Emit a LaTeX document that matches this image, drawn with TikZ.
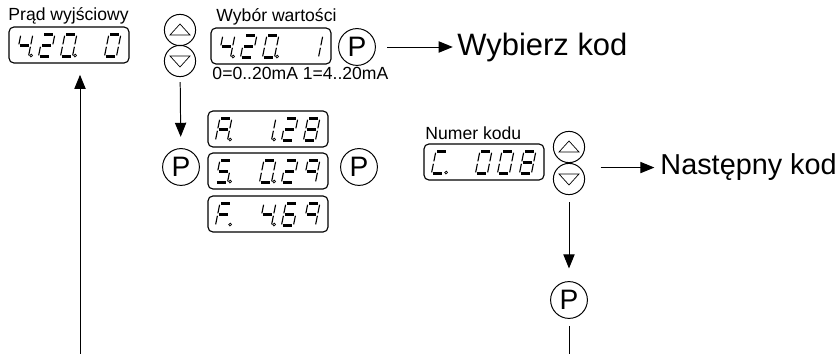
\documentclass[tikz,border=0pt]{standalone}
\usepackage{fontspec}
\setmainfont{Liberation Sans}
\usetikzlibrary{arrows.meta}

% seven segment cell: segments a-g, p = decimal point, x = blank
\tikzset{
  hseg/.style={draw, line width=1.8pt},
  vseg/.style={draw, line width=0.8pt},
  seg a/.style={hseg, insert path={(1.5,-22) -- (10.5,-22)}},
  seg b/.style={vseg, insert path={(12,-20.8) -- (12,-12.2)}},
  seg c/.style={vseg, insert path={(12,-9.8) -- (12,-1.2)}},
  seg d/.style={hseg, insert path={(1.5,0) -- (10.5,0)}},
  seg e/.style={vseg, insert path={(0,-9.8) -- (0,-1.2)}},
  seg f/.style={vseg, insert path={(0,-20.8) -- (0,-12.2)}},
  seg g/.style={hseg, insert path={(1.5,-11) -- (10.5,-11)}},
  seg p/.style={draw, line width=0.5pt, insert path={(14.5,-1) circle[radius=1pt]}},
  seg x/.style={},
}

% five cells inside a display box
\newcommand{\readout}[2]{%
  \foreach \cell [count=\k from 0] in {#2}
    \foreach \s in \cell {
      \begin{scope}[shift={(#1.south west)}, shift={({8+22*\k},-7)}, xslant=0.2]
        \edef\segpath{\noexpand\path[seg \s];}\segpath
      \end{scope}
    }%
}

\begin{document}
\begin{tikzpicture}[x=0.025cm, y=-0.025cm, line width=0.7pt,
  disp/.style={draw, line width=0.8pt, rounded corners=3.5pt, minimum width=3cm, minimum height=0.9cm, inner sep=0pt},
  pkey/.style={draw, circle, minimum size=0.92cm, inner sep=0pt, font=\fontsize{20}{20}\selectfont},
  akey/.style={draw, circle, minimum size=0.78cm, inner sep=0pt},
  keyup/.style={path picture={\draw[line width=0.5pt] (path picture bounding box.center)
      ++(-10,5) -- ++(20,0) -- ++(-10,-11) -- cycle;}},
  keydown/.style={path picture={\draw[line width=0.5pt] (path picture bounding box.center)
      ++(-10,-5) -- ++(20,0) -- ++(-10,11) -- cycle;}},
  lbl/.style={inner sep=0pt, anchor=base west, font=\fontsize{12.5}{14}\selectfont},
  big/.style={inner sep=0pt, anchor=base west, font=\fontsize{20.5}{24}\selectfont},
  flow/.style={-{Triangle[length=10pt, width=8pt]}}]
  \useasboundingbox (0,0) rectangle (838,354);

  % output current
  \node[lbl] (lblout) at (8,21) {Prąd wyjściowy};
  \node[disp] (dispout) at (69,45) {};
  \readout{dispout}{{f,g,b,c,p},{a,b,g,e,d},{a,b,c,d,e,f,p},{x},{a,b,c,d,e,f}}

  % range select
  \node[akey, keyup] (upA) at (180,30) {};
  \node[akey, keydown] (downA) at (180,61) {};
  \node[lbl] (lblval) at (216,22) {Wybór wartości};
  \node[disp] (dispval) at (271,46) {};
  \readout{dispval}{{f,g,b,c,p},{a,b,g,e,d},{a,b,c,d,e,f,p},{x},{b,c}}
  \node[pkey] (pval) at (357,47) {P};
  \node[lbl] (lblrange) at (212,80) {0=0..20mA 1=4..20mA};
  \node[big, font=\fontsize{22}{24}\selectfont] (kod) at (457,56) {Wybierz kod};

  % menu entries
  \node[pkey] (pmenu) at (181,167) {P};
  \node[disp] (dispA) at (268,129) {};
  \readout{dispA}{{a,b,c,e,f,g,p},{x},{b,c,p},{a,b,g,e,d},{a,b,c,d,e,f,g}}
  \node[disp] (dispS) at (268,171) {};
  \readout{dispS}{{a,f,g,c,d,p},{x},{a,b,c,d,e,f,p},{a,b,g,e,d},{a,b,c,f,g}}
  \node[disp] (dispF) at (268,214) {};
  \readout{dispF}{{a,f,g,e,p},{x},{f,g,b,c,p},{a,f,g,e,d,c},{a,b,c,f,g}}
  \node[pkey] (pnext) at (359,167) {P};

  % code number
  \node[lbl] (lblcode) at (425,140) {Numer kodu};
  \node[disp] (dispcode) at (484,162) {};
  \readout{dispcode}{{a,f,e,d,p},{x},{a,b,c,d,e,f},{a,b,c,d,e,f},{a,b,c,d,e,f,g}}
  \node[akey, keyup] (upB) at (569,147) {};
  \node[akey, keydown] (downB) at (569,179) {};
  \node[big] (next) at (660,175) {Następny kod};
  \node[pkey] (pend) at (569,300) {P};

  % arrows
  \coordinate (outfoot) at (80,354);
  \coordinate (endfoot) at (569,354);
  \draw[flow, shorten >=8pt] (outfoot) -- (outfoot |- dispout.south);
  \draw[flow, shorten <=8pt, shorten >=3pt] (pval.east) -- (pval.east -| kod.west);
  \draw[flow, shorten <=3.5pt, shorten >=8pt] (downA) -- (pmenu);
  \draw[flow, shorten <=11pt, shorten >=4pt] (next.west -| upB.east) -- (next.west);
  \draw[flow, shorten <=5pt, shorten >=9pt] (downB) -- (pend);
  \draw[shorten <=5pt] (pend) -- (endfoot);
\end{tikzpicture}
\end{document}
